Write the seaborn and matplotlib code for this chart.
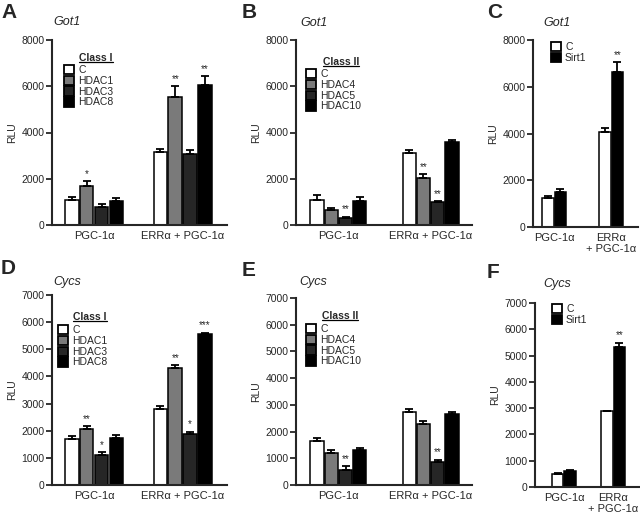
import matplotlib
matplotlib.use('Agg')
import matplotlib.pyplot as plt
from matplotlib.patches import Patch
from matplotlib.lines import Line2D
import pandas as pd
import seaborn as sns

# conditions on the x axis
conditions = ['PGC-1α', 'ERRα + PGC-1α']
conditions_short = ['PGC-1α', 'ERRα\n+ PGC-1α']

# hue groups
class1 = ['C', 'HDAC1', 'HDAC3', 'HDAC8']
class2 = ['C', 'HDAC4', 'HDAC5', 'HDAC10']
sirt = ['C', 'Sirt1']

# Got1, class I (values per hue, [PGC-1a, ERRa+PGC-1a])
a_vals = [[1100, 3150], [1700, 5550], [800, 3050], [1050, 6050]]
a_errs = [[120, 150], [200, 450], [120, 200], [100, 400]]
a_stars = [['', ''], ['*', '**'], ['', ''], ['', '**']]

# Got1, class II
b_vals = [[1100, 3100], [650, 2050], [300, 1000], [1050, 3600]]
b_errs = [[180, 150], [100, 150], [60, 30], [180, 80]]
b_stars = [['', ''], ['', '**'], ['**', '**'], ['', '']]

# Got1, Sirt1
c_vals = [[1220, 4050], [1500, 6650]]
c_errs = [[100, 200], [130, 400]]
c_stars = [['', ''], ['', '**']]

# Cycs, class I
d_vals = [[1700, 2800], [2050, 4320], [1100, 1880], [1750, 5550]]
d_errs = [[100, 120], [120, 100], [100, 80], [80, 60]]
d_stars = [['', ''], ['**', '**'], ['*', '*'], ['', '***']]

# Cycs, class II
e_vals = [[1650, 2750], [1200, 2300], [550, 850], [1320, 2650]]
e_errs = [[120, 80], [120, 80], [160, 100], [80, 100]]
e_stars = [['', ''], ['', ''], ['**', '**'], ['', '']]

# Cycs, Sirt1
f_vals = [[500, 2880], [620, 5320]]
f_errs = [[40, 30], [40, 170]]
f_stars = [['', ''], ['', '**']]

four_colors = ['white', '#7a7a7a', '#262626', 'black']
two_colors = ['white', 'black']

sns.set_style('ticks')
plt.rcParams['font.family'] = ['Liberation Sans', 'DejaVu Sans']

fig = plt.figure(figsize=(6.4, 5.15), dpi=100)


def fx(x):
    return x / 640


def fy(y):
    return 1 - y / 515


def px(left, right, top, bottom):
    return [fx(left), fy(bottom), (right - left) / 640, (bottom - top) / 515]


titles = []


def panel(rect, gene, gene_xy, hues, colors, vals, errs, stars, ymax, ystep,
          xlim, width, labels, legend_title, title_xy, leg_xy):
    ax = fig.add_axes(rect)
    rows = []
    for h, v in zip(hues, vals):
        for cond, val in zip(conditions, v):
            rows.append({'cond': cond, 'hue': h, 'RLU': val})
    df = pd.DataFrame(rows)
    sns.barplot(data=df, x='cond', y='RLU', hue='hue', hue_order=hues,
                order=conditions, palette=colors, width=width, gap=0.08,
                edgecolor='black', linewidth=1.1, errorbar=None, legend=False,
                saturation=1, ax=ax)
    for cont, err, st in zip(ax.containers, errs, stars):
        xs = [b.get_x() + b.get_width() / 2 for b in cont]
        hs = [b.get_height() for b in cont]
        ax.errorbar(xs, hs, yerr=[[0] * len(err), err], fmt='none',
                    ecolor='black', elinewidth=1.3, capsize=2.8, capthick=1.3,
                    zorder=3)
        for x, h, e, s in zip(xs, hs, err, st):
            if s:
                ax.text(x, h + e + ymax * 0.012, s, ha='center', va='bottom',
                        fontsize=7)
    ax.set_xlim(*xlim)
    ax.set_ylim(0, ymax)
    ax.set_yticks(range(0, ymax + 1, ystep))
    ax.set_xticks([0, 1])
    ax.set_xticklabels(labels, fontsize=8)
    ax.tick_params(axis='x', length=0, pad=4)
    ax.tick_params(axis='y', labelsize=7.5, width=1.3, length=4, pad=1.5)
    ax.set_xlabel('')
    ax.set_ylabel('RLU', fontsize=7.5, labelpad=3)
    for sp in ['top', 'right']:
        ax.spines[sp].set_visible(False)
    for sp in ['left', 'bottom']:
        ax.spines[sp].set_linewidth(1.5)
    fig.text(fx(gene_xy[0]), fy(gene_xy[1]), gene, fontsize=9,
             style='italic', va='center', ha='left')
    handles = [Patch(facecolor=c, edgecolor='black', linewidth=1.3, label=h)
               for h, c in zip(hues, colors)]
    ax.legend(handles=handles, loc='upper left',
              bbox_to_anchor=(fx(leg_xy[0]), fy(leg_xy[1])),
              bbox_transform=fig.transFigure,
              frameon=False, fontsize=7.5, handlelength=1.0, handleheight=1.0,
              handletextpad=0.35, labelspacing=0.05, borderaxespad=0,
              borderpad=0)
    if legend_title:
        t = fig.text(fx(title_xy[0]), fy(title_xy[1]), legend_title,
                     fontsize=7.5, fontweight='bold', ha='center', va='center')
        titles.append(t)
    return ax


specs = [
    (px(52, 227, 40, 225), 'Got1', (53, 22), class1, four_colors, a_vals, a_errs,
     a_stars, 8000, 2000, (-0.475, 1.5), 0.67, conditions, 'Class I', (96, 58),
     (64, 65)),
    (px(296, 472, 40, 225), 'Got1', (300, 23), class2, four_colors, b_vals, b_errs,
     b_stars, 8000, 2000, (-0.46, 1.45), 0.62, conditions, 'Class II', (341, 62),
     (306, 69)),
    (px(533, 638, 40, 227), 'Got1', (543, 23), sirt, two_colors, c_vals, c_errs,
     c_stars, 8000, 2000, (-0.37, 1.47), 0.44, conditions_short, None, None,
     (551, 42)),
    (px(52, 227, 295, 485), 'Cycs', (53, 282), class1, four_colors, d_vals, d_errs,
     d_stars, 7000, 1000, (-0.475, 1.5), 0.67, conditions, 'Class I', (90, 317),
     (58, 325)),
    (px(296, 472, 298, 485), 'Cycs', (299, 282), class2, four_colors, e_vals,
     e_errs, e_stars, 7000, 1000, (-0.46, 1.45), 0.62, conditions, 'Class II',
     (340, 316), (306, 324)),
    (px(535, 640, 303, 487), 'Cycs', (543, 284), sirt, two_colors, f_vals, f_errs,
     f_stars, 7000, 1000, (-0.59, 1.55), 0.51, conditions_short, None, None,
     (552, 304)),
]
for s in specs:
    panel(*s)

# panel letters
for letter, (x, y) in zip('ABCDEF', [(1, 12), (242, 13), (487, 13),
                                     (1, 269), (242, 270), (487, 272)]):
    fig.text(fx(x), fy(y), letter, fontsize=15, fontweight='bold',
             va='center', ha='left')

# underline the legend titles
fig.canvas.draw()
renderer = fig.canvas.get_renderer()
for t in titles:
    bb = t.get_window_extent(renderer).transformed(fig.transFigure.inverted())
    fig.add_artist(Line2D([bb.x0, bb.x1], [bb.y0 + 0.002, bb.y0 + 0.002],
                          color='black', linewidth=0.9,
                          transform=fig.transFigure))

fig.savefig('out.png', dpi=100)
